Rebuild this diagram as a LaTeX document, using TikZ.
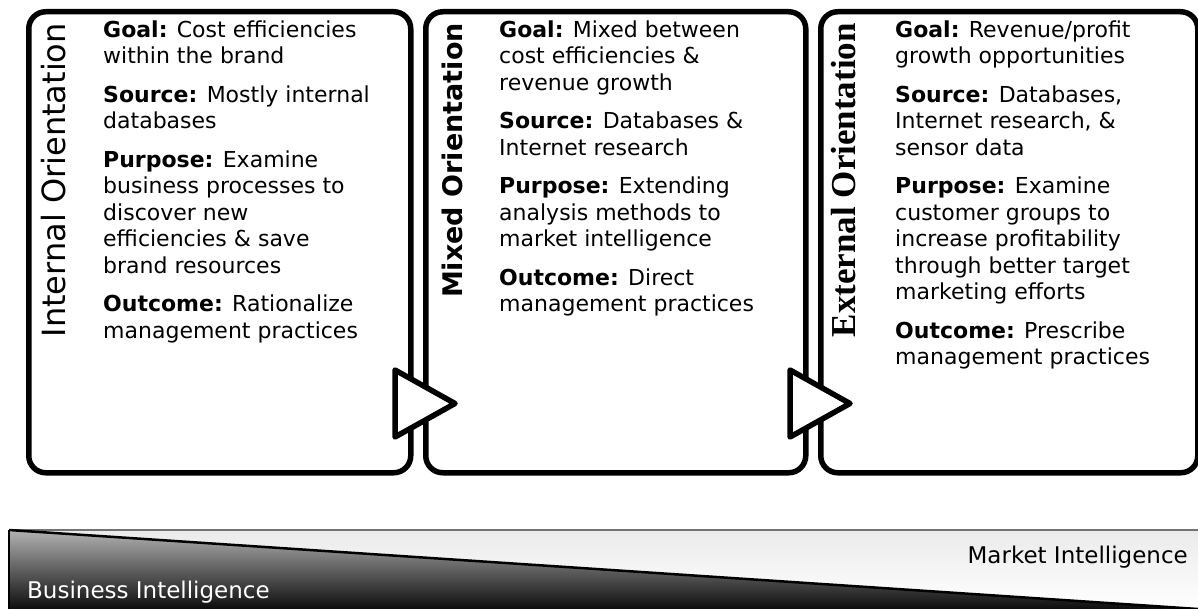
\documentclass[tikz,border=0pt]{standalone}
\usepackage{fontspec}
\setmainfont{DejaVu Sans}
\newfontfamily\serifface{Liberation Serif}
\usetikzlibrary{positioning}

\begin{document}
\begin{tikzpicture}
[x=1pt,y=-1pt,%
  panel/.style={draw,line width=5.5pt,rounded corners=17pt,fill=white,inner sep=0pt,anchor=north west},%
  heading/.style={rotate=90,anchor=base east,inner sep=0pt},%
  body/.style={anchor=north west,align=left,inner sep=0pt,font=\fontsize{22}{26.5}\selectfont},%
  pointer/.style={draw,fill=white,line width=5.5pt,line join=round},%
  barlabel/.style={inner sep=0pt,font=\fontsize{23}{27}\selectfont}]
\useasboundingbox (0,0) rectangle (1198,609);

% the three orientation panels
\node[panel,minimum width=382pt,minimum height=461pt] (int) at (26,9) {};
\node[panel,minimum width=380pt,minimum height=461pt] (mix) at (423,9) {};
\node[panel,minimum width=377pt,minimum height=461pt] (ext) at (818,9) {};

\node[heading,font=\fontsize{32}{36}\selectfont] (intname) at (65,23) {Internal Orientation};
\node[heading,font=\fontsize{27}{32}\bfseries] (mixname) at (462,23) {Mixed Orientation};
\node[heading,font=\fontsize{35}{40}\serifface\bfseries] (extname) at (855,23) {External Orientation};

\node[body] (inttext) at (103,20.5) {%
  \textbf{Goal:} Cost efficiencies\\ within the brand\\[12pt]
  \textbf{Source:} Mostly internal\\ databases\\[12pt]
  \textbf{Purpose:} Examine\\ business processes to\\ discover new\\ efficiencies \& save\\ brand resources\\[12pt]
  \textbf{Outcome:} Rationalize\\ management practices};
\node[body] (mixtext) at (499,20.5) {%
  \textbf{Goal:} Mixed between\\ cost efficiencies \&\\ revenue growth\\[12pt]
  \textbf{Source:} Databases \&\\ Internet research\\[12pt]
  \textbf{Purpose:} Extending\\ analysis methods to\\ market intelligence\\[12pt]
  \textbf{Outcome:} Direct\\ management practices};
\node[body] (exttext) at (895,20.5) {%
  \textbf{Goal:} Revenue/profit\\ growth opportunities\\[12pt]
  \textbf{Source:} Databases,\\ Internet research, \&\\ sensor data\\[12pt]
  \textbf{Purpose:} Examine\\ customer groups to\\ increase profitability\\ through better target\\ marketing efforts\\[12pt]
  \textbf{Outcome:} Prescribe\\ management practices};

% arrow heads between panels
\draw[pointer] (395,370) -- (455,403.5) -- (395,437) -- cycle;
\draw[pointer] (790,370) -- (850,403.5) -- (790,437) -- cycle;

% intelligence wedge
\shade[top color=black!8,bottom color=white] (9,530) -- (1198,530) -- (1198,609) -- cycle;
\shade[top color=black!30,middle color=black!45,bottom color=black!95] (9,530) -- (1198,609) -- (9,609) -- cycle;
\draw[black!55,line width=1.2pt] (9,530) -- (1198,530);
\draw[line width=1.5pt] (9,530) -- (9,609);
\draw[line width=2.5pt] (9,530) -- (1198,609);

\node[barlabel,white,anchor=base west] (bi) at (27,598) {Business Intelligence};
\node[barlabel,anchor=base east] (mi) at (1188,563) {Market Intelligence};
\end{tikzpicture}
\end{document}
